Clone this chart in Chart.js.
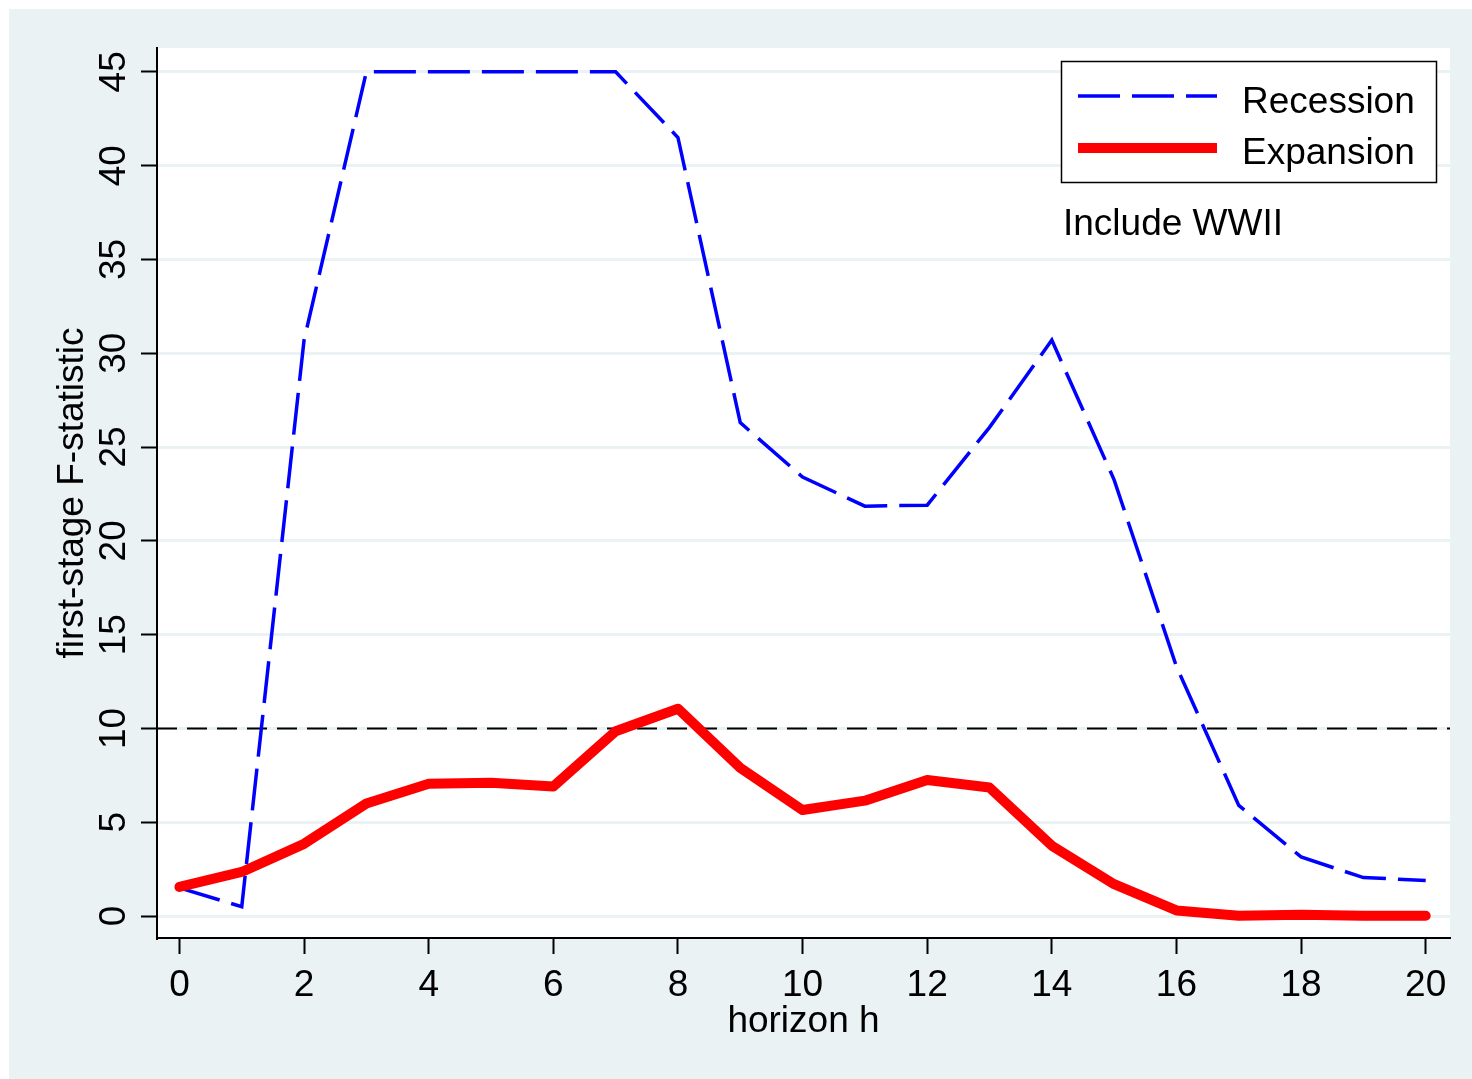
<!DOCTYPE html>
<html>
<head>
<meta charset="utf-8">
<title>First-stage F-statistic by horizon</title>
<script src="https://cdn.jsdelivr.net/npm/chart.js@4.4.1/dist/chart.umd.min.js"></script>
<style>
  html, body { margin: 0; padding: 0; background: #ffffff; }
  canvas { display: block; }
</style>
</head>
<body>
<canvas id="chart" width="1472" height="1079"></canvas>
<script>
// Horizons (quarters) and first-stage F-statistics by state of the economy
const horizons  = [0, 1, 2, 3, 4, 5, 6, 7, 8, 9, 10, 11, 12, 13, 14, 15, 16, 17, 18, 19, 20];
const recession = [1.5, 0.5, 30.7, 45, 45, 45, 45, 45, 41.5, 26.3, 23.4, 21.85, 21.9, 26.05, 30.7, 23.25, 13.3, 5.9, 3.15, 2.05, 1.9];
const expansion = [1.55, 2.35, 3.85, 6.0, 7.05, 7.1, 6.9, 9.85, 11.05, 7.9, 5.65, 6.15, 7.25, 6.85, 3.75, 1.7, 0.3, 0.02, 0.07, 0.02, 0.02];

// Rule-of-thumb threshold for weak instruments
const weakThreshold = 10;

// Axis ticks
const xTickValues = [0, 2, 4, 6, 8, 10, 12, 14, 16, 18, 20];
const yTickValues = [0, 5, 10, 15, 20, 25, 30, 35, 40, 45];

// Axis extents
const xAxisMin = -0.36, xAxisMax = 20.39;
const yAxisMin = -1.17, yAxisMax = 46.27;

const noteText = 'Include WWII';

const FONT = '"Liberation Sans", Arial, Helvetica, sans-serif';
const BG = '#eaf2f3';

const toPoints = (ys) => horizons.map((h, i) => ({ x: h, y: ys[i] }));

// Page background: light frame, white plot region
const backgroundPlugin = {
  id: 'stataBackground',
  beforeDraw(chart) {
    const { ctx, width, height, chartArea } = chart;
    ctx.save();
    ctx.fillStyle = '#ffffff';
    ctx.fillRect(0, 0, width, height);
    ctx.fillStyle = BG;
    ctx.fillRect(9, 9, width - 9, height - 9);
    ctx.fillStyle = '#ffffff';
    ctx.fillRect(chartArea.left, chartArea.top, chartArea.right - chartArea.left, chartArea.bottom - chartArea.top);
    ctx.restore();
  }
};

// Boxed legend in the upper right plus the sample note
const legendPlugin = {
  id: 'boxLegend',
  afterDatasetsDraw(chart) {
    const { ctx, chartArea } = chart;
    const boxL = chartArea.right - 389, boxT = chartArea.top + 13;
    const boxW = 376, boxH = 122;
    ctx.save();
    ctx.fillStyle = '#ffffff';
    ctx.fillRect(boxL, boxT, boxW, boxH);
    ctx.strokeStyle = '#000000';
    ctx.lineWidth = 1.5;
    ctx.strokeRect(boxL + 0.5, boxT + 0.5, boxW - 1, boxH - 1);

    const entries = chart.data.datasets.filter(d => !d.hideInLegend);
    const rowY = [boxT + 35, boxT + 87];
    const textBase = [boxT + 52, boxT + 103];
    entries.forEach((ds, i) => {
      ctx.beginPath();
      ctx.strokeStyle = ds.borderColor;
      ctx.lineWidth = ds.borderWidth;
      ctx.lineCap = 'butt';
      ctx.setLineDash(ds.borderDash || []);
      ctx.moveTo(boxL + 17, rowY[i]);
      ctx.lineTo(boxL + 156, rowY[i]);
      ctx.stroke();
      ctx.setLineDash([]);
      ctx.fillStyle = '#000000';
      ctx.font = '37px ' + FONT;
      ctx.textAlign = 'left';
      ctx.textBaseline = 'alphabetic';
      ctx.fillText(ds.label, boxL + 181, textBase[i]);
    });

    ctx.fillStyle = '#000000';
    ctx.font = '37px ' + FONT;
    ctx.textAlign = 'left';
    ctx.textBaseline = 'alphabetic';
    ctx.fillText(noteText, boxL + 2, boxT + 174);
    ctx.restore();
  }
};

Chart.defaults.font.family = FONT;
Chart.defaults.color = '#000000';

new Chart(document.getElementById('chart'), {
  type: 'line',
  data: {
    datasets: [
      {
        label: 'Recession',
        data: toPoints(recession),
        borderColor: '#0000ff',
        borderWidth: 3.5,
        borderDash: [42, 12],
        pointRadius: 0,
        tension: 0,
        fill: false,
        order: 1
      },
      {
        label: 'Expansion',
        data: toPoints(expansion),
        borderColor: '#ff0000',
        borderWidth: 10,
        borderCapStyle: 'round',
        borderJoinStyle: 'round',
        pointRadius: 0,
        tension: 0,
        fill: false,
        order: 0
      },
      {
        label: 'F = 10',
        hideInLegend: true,
        data: [{ x: xAxisMin, y: weakThreshold }, { x: xAxisMax, y: weakThreshold }],
        borderColor: '#000000',
        borderWidth: 2,
        borderDash: [20, 10],
        pointRadius: 0,
        fill: false,
        order: 2
      }
    ]
  },
  options: {
    responsive: false,
    animation: false,
    devicePixelRatio: 1,
    layout: { padding: { top: 48, right: 22, left: 0, bottom: 0 } },
    plugins: {
      legend: { display: false },
      title: { display: false },
      tooltip: { enabled: false }
    },
    scales: {
      x: {
        type: 'linear',
        min: xAxisMin,
        max: xAxisMax,
        afterBuildTicks(scale) { scale.ticks = xTickValues.map(v => ({ value: v })); },
        afterFit(scale) { scale.height = 141; },
        ticks: {
          font: { size: 37 },
          color: '#000000',
          padding: 10,
          maxRotation: 0,
          autoSkip: false
        },
        grid: {
          drawOnChartArea: false,
          drawTicks: true,
          tickLength: 16,
          tickColor: '#000000',
          tickWidth: 2
        },
        border: { display: true, color: '#000000', width: 2 },
        title: {
          display: true,
          text: 'horizon h',
          font: { size: 37 },
          color: '#000000',
          padding: { top: 0, bottom: 35 }
        }
      },
      y: {
        type: 'linear',
        min: yAxisMin,
        max: yAxisMax,
        afterBuildTicks(scale) { scale.ticks = yTickValues.map(v => ({ value: v })); },
        afterFit(scale) { scale.width = 157; },
        ticks: {
          font: { size: 37 },
          color: '#000000',
          padding: 6,
          minRotation: 90,
          maxRotation: 90,
          crossAlign: 'center',
          autoSkip: false
        },
        grid: {
          drawOnChartArea: true,
          color: BG,
          lineWidth: 3,
          drawTicks: true,
          tickLength: 16,
          tickColor: '#000000',
          tickWidth: 2
        },
        border: { display: true, color: '#000000', width: 2 },
        title: {
          display: true,
          text: 'first-stage F-statistic',
          font: { size: 37 },
          color: '#000000',
          padding: { top: 51, bottom: 0 }
        }
      }
    }
  },
  plugins: [backgroundPlugin, legendPlugin]
});
</script>
</body>
</html>
